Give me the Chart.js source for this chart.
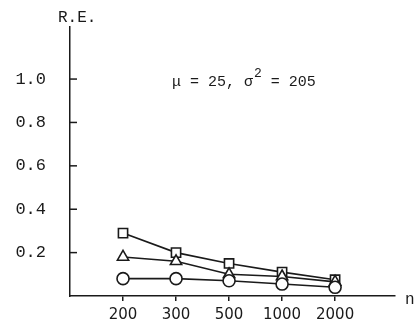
<!DOCTYPE html>
<html>
<head>
<meta charset="utf-8">
<script src="https://cdn.jsdelivr.net/npm/chart.js@4/dist/chart.umd.min.js"></script>
<style>
  html, body { margin: 0; padding: 0; background: #fff; }
  #wrap { width: 416px; height: 323px; }
</style>
</head>
<body>
<div id="wrap"><canvas id="chart" width="416" height="323"></canvas></div>
<script>
const nLabels = ['200', '300', '500', '1000', '2000'];
const yTicks = [0.2, 0.4, 0.6, 0.8, 1.0];
const squareRE = [0.29, 0.20, 0.15, 0.11, 0.075];
const triangleRE = [0.18, 0.16, 0.10, 0.09, 0.065];
const circleRE = [0.08, 0.08, 0.07, 0.055, 0.04];

const ink = '#1a1a1a';
const mono = '"Liberation Mono", "DejaVu Sans Mono", monospace';

function series(vals, style, r) {
  return {
    data: vals.map((v, i) => ({x: i, y: v})),
    borderColor: ink,
    borderWidth: 1.6,
    pointStyle: style,
    pointRadius: r,
    pointBorderWidth: 1.6,
    pointBorderColor: ink,
    pointBackgroundColor: '#fff',
    tension: 0
  };
}

// extra text and inward y ticks
const extras = {
  id: 'extras',
  afterDraw(chart) {
    const ctx = chart.ctx;
    const y = chart.scales.y;
    const area = chart.chartArea;
    ctx.save();
    ctx.strokeStyle = ink;
    ctx.lineWidth = 1.5;
    for (const t of yTicks) {
      const py = y.getPixelForValue(t);
      ctx.beginPath();
      ctx.moveTo(area.left, py);
      ctx.lineTo(area.left + 7, py);
      ctx.stroke();
    }
    ctx.fillStyle = ink;
    ctx.font = '16px ' + mono;
    ctx.textBaseline = 'middle';
    ctx.textAlign = 'left';
    ctx.fillText('R.E.', 58, 18);
    ctx.fillText('n', 405, 300);

    ctx.textBaseline = 'alphabetic';
    ctx.font = '15px ' + mono;
    let x = 172;
    const base = 86;
    let s = '\u03bc = 25, \u03c3';
    ctx.fillText(s, x, base);
    x += ctx.measureText(s).width;
    ctx.font = '13px ' + mono;
    ctx.fillText('2', x + 1, base - 9);
    x += ctx.measureText('2').width + 1;
    ctx.font = '15px ' + mono;
    ctx.fillText(' = 205', x, base);
    ctx.restore();
  }
};

new Chart(document.getElementById('chart'), {
  type: 'line',
  data: {
    datasets: [
      series(circleRE, 'circle', 6),
      series(triangleRE, 'triangle', 6.5),
      series(squareRE, 'rect', 6.5)
    ]
  },
  options: {
    responsive: false,
    animation: false,
    layout: { padding: { top: 27, right: 21, left: 0, bottom: 0 } },
    plugins: { legend: { display: false }, tooltip: { enabled: false } },
    scales: {
      x: {
        type: 'linear',
        min: -1,
        max: 5.13,
        afterBuildTicks: s => { s.ticks = nLabels.map((_, i) => ({value: i})); },
        afterFit: s => { s.height = 27; s.paddingLeft = 0; s.paddingRight = 0; },
        ticks: {
          callback: v => nLabels[v],
          color: ink,
          font: { family: '"DejaVu Sans", sans-serif', size: 15 },
          padding: 5,
          maxRotation: 0,
          autoSkip: false
        },
        grid: { drawOnChartArea: false, tickLength: 5, color: ink, lineWidth: 1.5 },
        border: { color: ink, width: 1.5 }
      },
      y: {
        min: 0,
        max: 1.24,
        afterBuildTicks: s => { s.ticks = yTicks.map(v => ({value: v})); },
        afterFit: s => { s.width = 70; s.paddingTop = 0; s.paddingBottom = 0; },
        ticks: {
          callback: v => v.toFixed(1),
          color: ink,
          font: { family: mono, size: 17 },
          padding: 24
        },
        grid: { drawOnChartArea: false, drawTicks: false },
        border: { color: ink, width: 1.5 }
      }
    }
  },
  plugins: [extras]
});
</script>
</body>
</html>
